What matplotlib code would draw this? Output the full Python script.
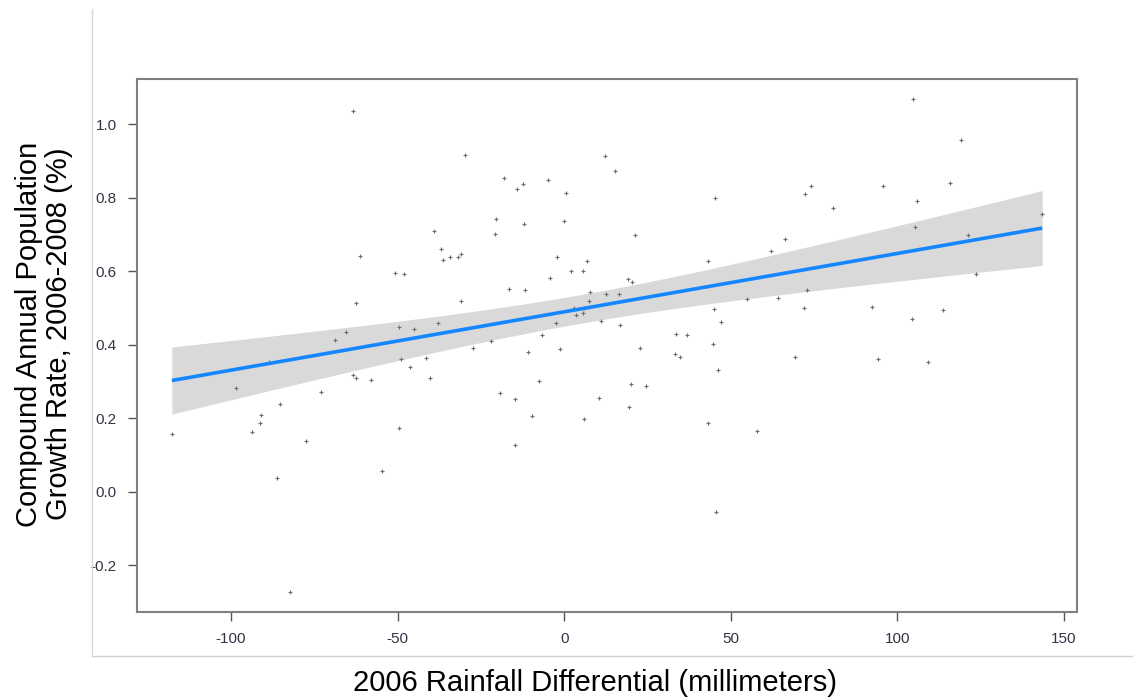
import numpy as np
import matplotlib
matplotlib.use("Agg")
import matplotlib.pyplot as plt
from matplotlib.lines import Line2D

# ---- data ----
rainfall = [
    -63.5, -39.0, -37.1, -36.3, -34.4, -32.0, -30.9, -61.3, -50.8, -48.1,
    -62.4, -65.4, -68.9, -49.7, -45.1, -38.0, -29.9, -31.1, -18.1, -14.2,
    -12.4, -5.0, 0.4, 12.1, 15.4, 45.4, -20.5, -20.8, -12.1, -0.1,
    21.2, -2.3, 6.8, 2.1, 5.7, -4.4, 43.3, 19.1, 20.5, -16.5,
    -11.7, 7.6, 12.5, 16.4, 7.3, 55.0, 2.9, 5.8, 3.5, 5.7,
    45.0, -2.6, 10.9, 16.8, 47.2, -6.8, 33.6, 37.0, -21.9, -27.4,
    -1.2, 22.8, 44.7,
    104.7, 119.2, 74.2, 72.3, 95.6, 115.7, 80.8, 105.9, 143.5, 105.3,
    66.4, 62.2, 121.2, 123.7, 64.1, 72.8, 72.0, 92.3, 104.5, 113.8,
    -117.8, -98.6, -88.7, -85.2, -91.0, -91.3, -93.7, -77.6, -73.1, -86.1,
    -82.2, -63.4, -62.4, -58.1, -48.9, -46.4, -41.5, -40.4, -49.7, -54.7,
    -11.0, 33.3, 34.9, 46.3, -7.7, -19.4, -14.9, 20.1, 24.5, 10.3,
    19.6, -9.6, 6.0, 43.3, 58.0, -14.9, 45.6,
    69.4, 94.2, 109.2,
]
growth = [
    1.036, 0.709, 0.660, 0.630, 0.640, 0.640, 0.646, 0.643, 0.596, 0.593,
    0.514, 0.436, 0.412, 0.448, 0.444, 0.458, 0.916, 0.519, 0.853, 0.824,
    0.839, 0.849, 0.814, 0.913, 0.874, 0.800, 0.742, 0.702, 0.730, 0.738,
    0.700, 0.640, 0.628, 0.600, 0.600, 0.583, 0.628, 0.580, 0.570, 0.553,
    0.548, 0.543, 0.538, 0.538, 0.519, 0.524, 0.501, 0.501, 0.481, 0.486,
    0.498, 0.458, 0.464, 0.455, 0.461, 0.426, 0.429, 0.426, 0.409, 0.391,
    0.389, 0.391, 0.402,
    1.070, 0.958, 0.833, 0.811, 0.833, 0.841, 0.772, 0.791, 0.755, 0.722,
    0.688, 0.655, 0.698, 0.593, 0.527, 0.548, 0.501, 0.504, 0.469, 0.496,
    0.158, 0.282, 0.354, 0.240, 0.210, 0.188, 0.163, 0.138, 0.272, 0.036,
    -0.274, 0.317, 0.310, 0.304, 0.360, 0.339, 0.365, 0.310, 0.172, 0.056,
    0.379, 0.374, 0.367, 0.332, 0.302, 0.270, 0.251, 0.294, 0.289, 0.255,
    0.230, 0.207, 0.199, 0.188, 0.166, 0.128, -0.055,
    0.367, 0.362, 0.354,
]
x_ticks = [-100, -50, 0, 50, 100, 150]
y_ticks = [-0.2, 0.0, 0.2, 0.4, 0.6, 0.8, 1.0]
x_title = "2006 Rainfall Differential (millimeters)"
y_title = "Compound Annual Population\nGrowth Rate, 2006-2008 (%)"

x = np.array(rainfall)
y = np.array(growth)

# linear fit with 95% confidence band
n = len(x)
slope, intercept = np.polyfit(x, y, 1)
resid = y - (intercept + slope * x)
s = np.sqrt(np.sum(resid ** 2) / (n - 2))
xg = np.linspace(x.min(), x.max(), 80)
yg = intercept + slope * xg
se = s * np.sqrt(1.0 / n + (xg - x.mean()) ** 2 / np.sum((x - x.mean()) ** 2))
tq = 1.98
lo, hi = yg - tq * se, yg + tq * se

plt.rcParams['font.family'] = ['Liberation Sans', 'DejaVu Sans']
fig = plt.figure(figsize=(11.33, 6.98), dpi=100)
ax = fig.add_axes([137 / 1133, 1 - 612 / 698, (1077 - 137) / 1133, (612 - 79) / 698])

ax.fill_between(xg, lo, hi, color='#d9d9d9', linewidth=0, zorder=1)
ax.plot(x, y, linestyle='none', marker='+', markersize=3.5, markeredgewidth=0.8,
        color='#6e6e6e', zorder=2)
ax.plot(xg, yg, color='#1487ff', linewidth=2.6, zorder=3, solid_capstyle='butt')

xr = x.max() - x.min()
yr = y.max() - y.min()
ax.set_xlim(x.min() - 0.04 * xr, x.max() + 0.04 * xr)
ax.set_ylim(y.min() - 0.04 * yr, y.max() + 0.04 * yr)

ax.set_xticks(x_ticks)
ax.set_xticklabels([str(v) for v in x_ticks])
ax.set_yticks(y_ticks)
ax.set_yticklabels([f"{v:.1f}" for v in y_ticks])
ax.tick_params(axis='both', length=6.5, width=1.0, color='#555555',
               labelsize=11, labelcolor='#333344', pad=8)
for sp in ax.spines.values():
    sp.set_color('#808080')
    sp.set_linewidth(1.5)

fig.text(595 / 1133, 1 - 683 / 698, x_title, ha='center', va='center',
         fontsize=21, color='black')
fig.text(44 / 1133, 1 - 334 / 698, y_title, ha='center', va='center',
         rotation=90, fontsize=21, color='black', linespacing=1.1,
         multialignment='center')

# light frame lines of the original figure
fig.add_artist(Line2D([92 / 1133, 92 / 1133], [1 - 9 / 698, 1 - 656 / 698],
                      transform=fig.transFigure, color='#d8d8d8', linewidth=1))
fig.add_artist(Line2D([92 / 1133, 1.0], [1 - 656 / 698, 1 - 656 / 698],
                      transform=fig.transFigure, color='#d0d0d0', linewidth=1))

fig.savefig("out.png", dpi=100)
